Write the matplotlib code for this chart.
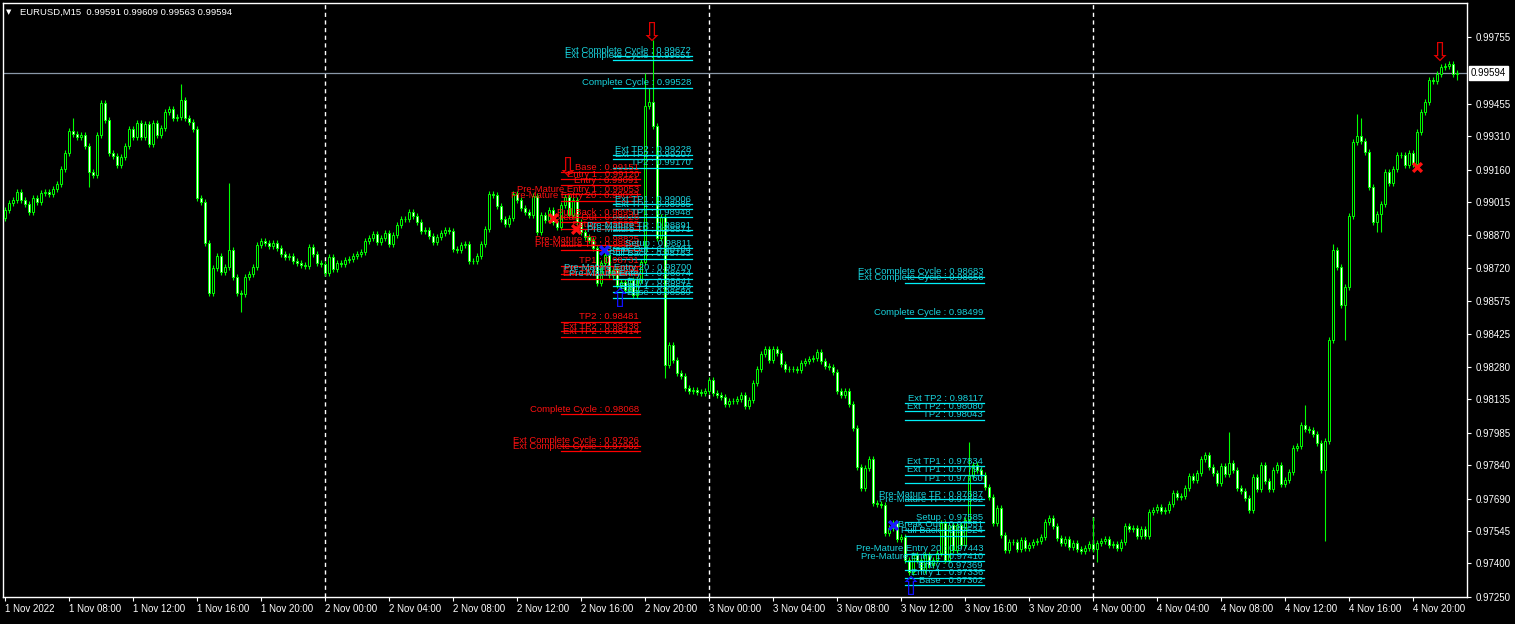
import matplotlib.pyplot as plt
from matplotlib.transforms import blended_transform_factory

plt.rcParams['font.family'] = ['Liberation Sans', 'DejaVu Sans']

# chart header
symbol = 'EURUSD,M15'
last_ohlc = [0.99591, 0.99609, 0.99563, 0.99594]

# M15 closes, 1 Nov 04:00 .. 4 Nov 22:45 (one row = 4 hours)
first_open = 0.98946
closes = [
    0.98981, 0.99013, 0.99026, 0.99062, 0.99026, 0.99008, 0.98972, 0.99035, 0.99017, 0.99057, 0.99062, 0.99053, 0.99075, 0.99098, 0.99165, 0.99236,
    0.99334, 0.99321, 0.99308, 0.99317, 0.99267, 0.99152, 0.99138, 0.99317, 0.99460, 0.99384, 0.99236, 0.99223, 0.99183, 0.99218, 0.99267, 0.99343,
    0.99308, 0.99370, 0.99308, 0.99366, 0.99276, 0.99370, 0.99317, 0.99348, 0.99419, 0.99433, 0.99393, 0.99397, 0.99473, 0.99393, 0.99375, 0.99343,
    0.99035, 0.99017, 0.98834, 0.98610, 0.98722, 0.98776, 0.98704, 0.98726, 0.98803, 0.98682, 0.98610, 0.98606, 0.98682, 0.98695, 0.98726, 0.98825,
    0.98843, 0.98834, 0.98820, 0.98834, 0.98811, 0.98785, 0.98771, 0.98776, 0.98753, 0.98744, 0.98735, 0.98731, 0.98816, 0.98785, 0.98744, 0.98740,
    0.98700, 0.98771, 0.98718, 0.98744, 0.98740, 0.98758, 0.98762, 0.98776, 0.98785, 0.98794, 0.98843, 0.98856, 0.98874, 0.98838, 0.98856, 0.98878,
    0.98829, 0.98870, 0.98914, 0.98941, 0.98942, 0.98972, 0.98954, 0.98928, 0.98887, 0.98892, 0.98865, 0.98838, 0.98861, 0.98878, 0.98892, 0.98887,
    0.98807, 0.98803, 0.98825, 0.98829, 0.98753, 0.98751, 0.98776, 0.98829, 0.98896, 0.99053, 0.99048, 0.98999, 0.98941, 0.98919, 0.98946, 0.99053,
    0.99026, 0.98990, 0.98972, 0.98959, 0.99044, 0.98883, 0.98959, 0.98937, 0.98981, 0.98928, 0.98905, 0.99004, 0.99039, 0.98959, 0.99026, 0.98928,
    0.98883, 0.98861, 0.98847, 0.98811, 0.98655, 0.98744, 0.98780, 0.98691, 0.98713, 0.98646, 0.98660, 0.98624, 0.98668, 0.98601, 0.98668, 0.98749,
    0.99446, 0.99464, 0.99357, 0.98856, 0.98950, 0.98288, 0.98378, 0.98311, 0.98253, 0.98239, 0.98186, 0.98172, 0.98177, 0.98168, 0.98163, 0.98172,
    0.98221, 0.98163, 0.98154, 0.98145, 0.98114, 0.98128, 0.98126, 0.98136, 0.98154, 0.98105, 0.98132, 0.98208, 0.98271, 0.98338, 0.98360, 0.98311,
    0.98360, 0.98342, 0.98293, 0.98271, 0.98272, 0.98270, 0.98266, 0.98297, 0.98306, 0.98315, 0.98320, 0.98347, 0.98306, 0.98284, 0.98280, 0.98257,
    0.98172, 0.98154, 0.98172, 0.98114, 0.98007, 0.97833, 0.97739, 0.97828, 0.97868, 0.97672, 0.97667, 0.97663, 0.97537, 0.97560, 0.97582, 0.97511,
    0.97520, 0.97417, 0.97363, 0.97439, 0.97417, 0.97372, 0.97439, 0.97394, 0.97417, 0.97448, 0.97582, 0.97417, 0.97573, 0.97462, 0.97573, 0.97484,
    0.97596, 0.97792, 0.97841, 0.97819, 0.97797, 0.97743, 0.97698, 0.97582, 0.97649, 0.97529, 0.97462, 0.97497, 0.97495, 0.97466, 0.97506, 0.97470,
    0.97484, 0.97497, 0.97502, 0.97520, 0.97587, 0.97605, 0.97569, 0.97515, 0.97493, 0.97511, 0.97475, 0.97493, 0.97466, 0.97457, 0.97470, 0.97488,
    0.97466, 0.97493, 0.97502, 0.97511, 0.97484, 0.97488, 0.97470, 0.97497, 0.97569, 0.97555, 0.97560, 0.97524, 0.97555, 0.97524, 0.97631, 0.97640,
    0.97654, 0.97636, 0.97640, 0.97667, 0.97716, 0.97698, 0.97703, 0.97739, 0.97792, 0.97774, 0.97806, 0.97868, 0.97886, 0.97833, 0.97806, 0.97761,
    0.97837, 0.97801, 0.97850, 0.97819, 0.97739, 0.97725, 0.97694, 0.97640, 0.97788, 0.97734, 0.97841, 0.97770, 0.97734, 0.97819, 0.97841, 0.97757,
    0.97774, 0.97810, 0.97917, 0.97926, 0.98020, 0.98002, 0.97998, 0.97980, 0.97940, 0.97819, 0.97949, 0.98400, 0.98803, 0.98726, 0.98557, 0.98637,
    0.98954, 0.99285, 0.99312, 0.99290, 0.99241, 0.99084, 0.98928, 0.98963, 0.99008, 0.99152, 0.99102, 0.99165, 0.99227, 0.99229, 0.99183, 0.99236,
    0.99187, 0.99330, 0.99419, 0.99464, 0.99562, 0.99558, 0.99591, 0.99621, 0.99625, 0.99634, 0.99591, 0.99594,
]

# candles with a wick worth noting: index -> (high, low)
wicks = {
    17: (0.99393, None), 21: (None, 0.99084), 44: (0.99545, None), 56: (0.99102, None),
    59: (None, 0.98526), 160: (0.99594, 0.98735), 161: (0.99527, None), 162: (0.99741, None),
    165: (None, 0.98230), 241: (0.97944, None), 272: (0.97609, None), 273: (None, 0.97408),
    306: (0.97989, None), 325: (0.98110, None), 330: (None, 0.97502), 332: (0.98829, None),
    335: (None, 0.98400), 338: (0.99410, None), 339: (0.99393, None), 343: (None, 0.98883),
    344: (None, 0.98883), 363: (0.99609, 0.99563),
}

day_breaks = [80, 176, 272]
time_labels = ['1 Nov 2022', '1 Nov 08:00', '1 Nov 12:00', '1 Nov 16:00', '1 Nov 20:00',
               '2 Nov 00:00', '2 Nov 04:00', '2 Nov 08:00', '2 Nov 12:00', '2 Nov 16:00', '2 Nov 20:00',
               '3 Nov 00:00', '3 Nov 04:00', '3 Nov 08:00', '3 Nov 12:00', '3 Nov 16:00', '3 Nov 20:00',
               '4 Nov 00:00', '4 Nov 04:00', '4 Nov 08:00', '4 Nov 12:00', '4 Nov 16:00', '4 Nov 20:00']
price_ticks = [0.97250, 0.97400, 0.97545, 0.97690, 0.97840, 0.97985, 0.98135, 0.98280, 0.98425,
               0.98575, 0.98720, 0.98870, 0.99015, 0.99160, 0.99310, 0.99455, 0.99755]

# indicator levels
level_names = ['Base', 'Entry 1', 'Entry', 'Pre-Mature Entry 1', 'Pre-Mature Entry 20', 'Pull Back',
               'Break Out', 'Setup', 'Pre-Mature TP', 'Pre-Mature TP', 'TP1', 'Ext TP1', 'Ext TP1',
               'TP2', 'Ext TP2', 'Ext TP2', 'Complete Cycle', 'Ext Complete Cycle', 'Ext Complete Cycle']
sell_levels = [0.99151, 0.99120, 0.99091, 0.99053, 0.99023, 0.98950, 0.98926, 0.98895, 0.98825, 0.98803,
               0.98731, 0.98694, 0.98673, 0.98481, 0.98438, 0.98414, 0.98068, 0.97926, 0.97902]
buy_levels_1 = [0.98589, 0.98616, 0.98641, 0.98674, 0.98700, 0.98763, 0.98784, 0.98811, 0.98871, 0.98891,
                0.98948, 0.98985, 0.99006, 0.99170, 0.99207, 0.99228, 0.99528, 0.99651, 0.99672]
buy_levels_2 = [0.97302, 0.97336, 0.97369, 0.97410, 0.97443, 0.97524, 0.97551, 0.97585, 0.97662, 0.97687,
                0.97760, 0.97797, 0.97834, 0.98043, 0.98080, 0.98117, 0.98499, 0.98656, 0.98683]
sell_start, buy1_start, buy2_start = 139, 152, 225

# signal symbols (candle index, price)
sell_arrows = [(161.75, 0.99768), (358.75, 0.99680), (140.75, 0.99168)]
buy_arrows = [(153.75, 0.98578), (226.5, 0.97290)]
sell_crosses = [(137, 0.98946), (142.75, 0.98896), (353, 0.99174)]
buy_crosses = [(149.75, 0.98803), (222, 0.97573)]

lime = '#00ff00'
opens = [first_open] + closes[:-1]
n = len(closes)
highs, lows = [], []
for i in range(n):
    hi = max(opens[i], closes[i]) + 0.00013
    lo = min(opens[i], closes[i]) - 0.00013
    if i in wicks:
        if wicks[i][0] is not None:
            hi = wicks[i][0]
        if wicks[i][1] is not None:
            lo = wicks[i][1]
    highs.append(hi)
    lows.append(lo)

fig = plt.figure(figsize=(15.15, 6.24), dpi=100, facecolor='black')
ax = fig.add_axes([3 / 1515, 27 / 624, 1464 / 1515, 594 / 624], facecolor='black')
ax.set_xlim(-0.5, 365.5)
ax.set_ylim(0.97251, 0.99907)

for d in day_breaks:
    ax.axvline(d, color='white', lw=1, ls=(0, (3, 2.5)), zorder=1)
ax.axhline(last_ohlc[3], color='#8a98a8', lw=0.9, zorder=1)

x = list(range(n))
ax.vlines(x, lows, highs, color=lime, lw=0.8, zorder=2)
bottoms = [min(o, c) for o, c in zip(opens, closes)]
heights = [max(abs(c - o), 0.000005) for o, c in zip(opens, closes)]
fills = ['black' if c >= o else 'white' for o, c in zip(opens, closes)]
ax.bar(x, heights, bottom=bottoms, width=0.55, color=fills, edgecolor=lime, linewidth=0.7, zorder=3)


def draw_levels(values, start, line_color, text_color):
    for name, v in zip(level_names, values):
        ax.plot([start, start + 19.75], [v, v], color=line_color, lw=0.9, zorder=4)
        ax.annotate(f'{name} : {v:.5f}', (start + 19.5, v), xytext=(0, 0.3), textcoords='offset points',
                    ha='right', va='bottom', fontsize=6.8, color=text_color, zorder=5)


draw_levels(sell_levels, sell_start, '#ff0000', '#ff1010')
draw_levels(buy_levels_1, buy1_start, '#00f0f8', '#18d2dc')
draw_levels(buy_levels_2, buy2_start, '#00f0f8', '#18d2dc')

for i, p in sell_arrows:
    ax.text(i, p, '⇩', color='#e00000', fontsize=19, ha='center', va='center', family='DejaVu Sans', zorder=6)
for i, p in buy_arrows:
    ax.text(i, p, '⇧', color='#1010ff', fontsize=19, ha='center', va='center', family='DejaVu Sans', zorder=6)
ax.scatter([c[0] for c in sell_crosses], [c[1] for c in sell_crosses], marker='x', s=40, linewidths=2.4,
           color='#ff1010', zorder=6)
ax.scatter([c[0] for c in buy_crosses], [c[1] for c in buy_crosses], marker='x', s=40, linewidths=2.4,
           color='#1a1aff', zorder=6)

# axes
for s in ax.spines.values():
    s.set_color('white')
    s.set_linewidth(1)
ax.yaxis.tick_right()
ax.set_yticks(price_ticks)
ax.set_yticklabels([f'{p:.5f}' for p in price_ticks])
ax.set_xticks([16 * k for k in range(len(time_labels))])
ax.set_xticklabels(time_labels, ha='left')
ax.tick_params(colors='white', labelsize=7, length=3, width=0.8)
ax.tick_params(axis='y', pad=3)
ax.tick_params(axis='x', pad=2)

trans = blended_transform_factory(ax.transAxes, ax.transData)
ax.text(1.0 + 4 / 1464, last_ohlc[3], f'{last_ohlc[3]:.5f}', transform=trans, ha='left', va='center',
        fontsize=7, color='black', zorder=7,
        bbox=dict(boxstyle='square,pad=0.2', fc='white', ec='white'))

fig.text(6 / 1515, 1 - 12 / 624, '▼', color='white', fontsize=5, va='center', family='DejaVu Sans')
fig.text(20 / 1515, 1 - 12 / 624, f'{symbol}  ' + ' '.join(f'{v:.5f}' for v in last_ohlc),
         color='white', fontsize=6.8, va='center')

fig.savefig('out.png', dpi=100, facecolor='black')
